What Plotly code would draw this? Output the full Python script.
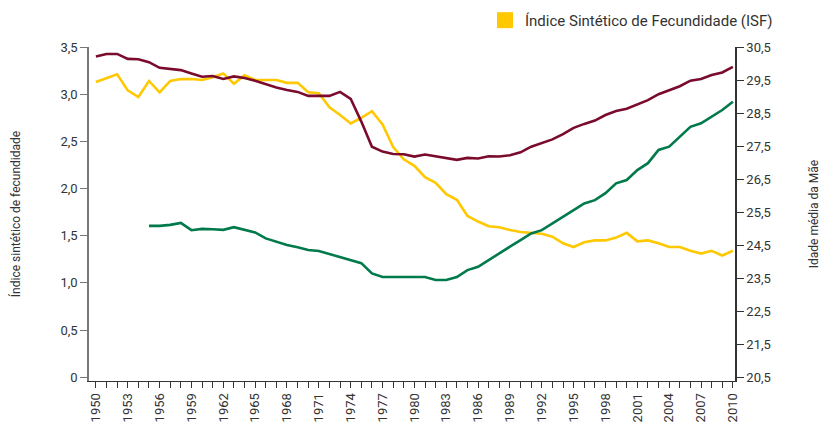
import plotly.graph_objects as go

years = list(range(1950, 2011))

isf = [3.13, 3.17, 3.21, 3.04, 2.97, 3.14, 3.02, 3.14, 3.16, 3.16,
       3.15, 3.18, 3.22, 3.11, 3.20, 3.15, 3.15, 3.15, 3.12, 3.12,
       3.02, 3.01, 2.86, 2.78, 2.69, 2.75, 2.82, 2.68, 2.44, 2.31,
       2.24, 2.12, 2.06, 1.94, 1.88, 1.71, 1.65, 1.60, 1.59, 1.56,
       1.54, 1.53, 1.52, 1.49, 1.42, 1.38, 1.43, 1.45, 1.45, 1.48,
       1.53, 1.44, 1.45, 1.42, 1.38, 1.38, 1.34, 1.31, 1.34, 1.29, 1.34]

idade_media = [30.21, 30.29, 30.29, 30.14, 30.13, 30.04, 29.87, 29.84, 29.80, 29.70,
               29.60, 29.62, 29.53, 29.61, 29.56, 29.48, 29.37, 29.27, 29.20, 29.14,
               29.02, 29.02, 29.02, 29.14, 28.93, 28.24, 27.48, 27.33, 27.26, 27.25,
               27.18, 27.24, 27.18, 27.14, 27.08, 27.14, 27.12, 27.19, 27.18, 27.22,
               27.31, 27.48, 27.60, 27.70, 27.86, 28.05, 28.17, 28.27, 28.44, 28.56,
               28.63, 28.77, 28.89, 29.07, 29.20, 29.31, 29.48, 29.53, 29.65, 29.73, 29.90]

years_primeiro = list(range(1955, 2011))
idade_primeiro = [25.08, 25.08, 25.11, 25.17, 24.95, 24.99, 24.98, 24.96, 25.04, 24.95,
                  24.88, 24.70, 24.60, 24.50, 24.43, 24.35, 24.32, 24.23, 24.14, 24.04,
                  23.95, 23.64, 23.53, 23.53, 23.53, 23.53, 23.53, 23.44, 23.44, 23.53,
                  23.74, 23.84, 24.05, 24.25, 24.45, 24.65, 24.85, 24.95, 25.16, 25.36,
                  25.56, 25.76, 25.86, 26.07, 26.37, 26.47, 26.77, 26.98, 27.38, 27.48,
                  27.78, 28.08, 28.19, 28.39, 28.59, 28.84]

left_ticks = [0, 0.5, 1.0, 1.5, 2.0, 2.5, 3.0, 3.5]
left_labels = ["0", "0,5", "1,0", "1,5", "2,0", "2,5", "3,0", "3,5"]
right_ticks = [20.5, 21.5, 22.5, 23.5, 24.5, 25.5, 26.5, 27.5, 28.5, 29.5, 30.5]
right_labels = ["20,5", "21,5", "22,5", "23,5", "24,5", "25,5", "26,5", "27,5", "28,5", "29,5", "30,5"]
x_labels = [str(y) if (y - 1950) % 3 == 0 else "" for y in years]

YELLOW = "#FFC800"
MAROON = "#7A0B2D"
GREEN = "#00794B"
TXT = "#333333"
FONT = "Roboto"

fig = go.Figure()
fig.add_trace(go.Scatter(x=years, y=isf, mode="lines", line=dict(color=YELLOW, width=2.6),
                         showlegend=False, yaxis="y"))
fig.add_trace(go.Scatter(x=years, y=idade_media, mode="lines", line=dict(color=MAROON, width=2.6),
                         showlegend=False, yaxis="y2"))
fig.add_trace(go.Scatter(x=years_primeiro, y=idade_primeiro, mode="lines", line=dict(color=GREEN, width=2.6),
                         showlegend=False, yaxis="y2"))
fig.add_trace(go.Scatter(x=[None], y=[None], mode="markers",
                         marker=dict(symbol="square", size=16, color=YELLOW),
                         name="Índice Sintético de Fecundidade (ISF)", showlegend=True))

# The page body has an 8px margin, so the figure is 8px smaller and offsets are adjusted.
fig.update_layout(
    width=819, height=415,
    margin=dict(l=81, r=92, t=39, b=42, autoexpand=False),
    paper_bgcolor="white", plot_bgcolor="white",
    font=dict(family=FONT, size=13, color=TXT),
    legend=dict(x=0.613, y=1.129, xanchor="left", yanchor="top", orientation="h",
                font=dict(size=15, color=TXT), bgcolor="rgba(0,0,0,0)",
                itemsizing="trace"),
    xaxis=dict(range=[1949.35, 2010.2], tickmode="array", tickvals=years, ticktext=x_labels,
               tickangle=-90, ticks="outside", ticklen=6, tickcolor="#333", showline=True,
               linecolor="#333", linewidth=1, showgrid=False, zeroline=False, automargin=False,
               tickfont=dict(size=13, color=TXT)),
    yaxis=dict(range=[-0.04, 3.5], tickmode="array", tickvals=left_ticks, ticktext=left_labels,
               ticks="outside", ticklen=7, tickcolor="#777", showline=True, linecolor="#777",
               linewidth=1.5, showgrid=False, zeroline=False, automargin=False,
               title=dict(text="Índice sintético de fecundidade", font=dict(size=12, color=TXT), standoff=37)),
    yaxis2=dict(range=[20.38, 30.5], overlaying="y", side="right", tickmode="array",
                tickvals=right_ticks, ticktext=right_labels, ticks="outside", ticklen=7,
                tickcolor="#333", showline=True, linecolor="#333", linewidth=1.5,
                showgrid=False, zeroline=False, automargin=False,
                title=dict(text="Idade média da Mãe", font=dict(size=12, color=TXT), standoff=40)),
)

fig.write_html("out.html")
